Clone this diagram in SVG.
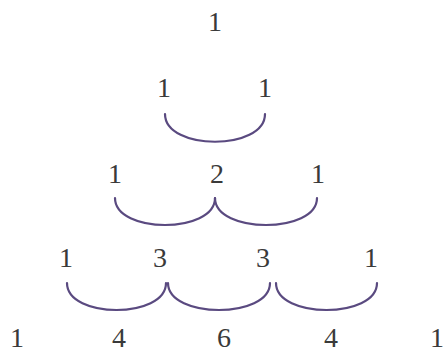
<svg xmlns="http://www.w3.org/2000/svg" width="444" height="353" viewBox="0 0 444 353">
<style>
text{font-size:28px;fill:#3a3a3a;text-anchor:middle}
.arc{fill:none;stroke:#5a4a80;stroke-width:2.2;stroke-linecap:round}
</style>
<rect width="444" height="353" fill="#fff"/>
<g font-family="Liberation Serif, serif">
<g id="r0"><text x="215" y="31">1</text></g>
<g id="r1"><text x="164" y="97">1</text><text x="265" y="97">1</text></g>
<g id="r2"><text x="115" y="183">1</text><text x="217" y="183">2</text><text x="318" y="183">1</text></g>
<g id="r3"><text x="66" y="267">1</text><text x="160" y="267">3</text><text x="263" y="267">3</text><text x="371" y="267">1</text></g>
<g id="r4"><text x="17" y="347">1</text><text x="119" y="347">4</text><text x="224" y="347">6</text><text x="331" y="347">4</text><text x="437" y="347">1</text></g>
</g>
<g id="connectors">
<path class="arc" d="M165,114 C165,151 265,151 265,114"/>
<path class="arc" d="M115,198 C115,234 215,234 215,198"/>
<path class="arc" d="M215,198 C215,234 317,234 317,198"/>
<path class="arc" d="M67,283 C67,319 166,319 166,283"/>
<path class="arc" d="M168,283 C168,319 270,319 270,283"/>
<path class="arc" d="M276,283 C276,319 377,319 377,283"/>
</g>
</svg>
